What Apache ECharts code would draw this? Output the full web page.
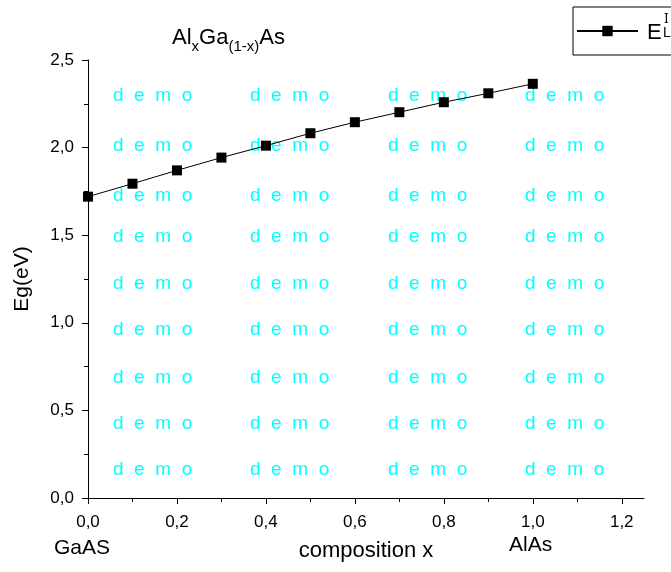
<!DOCTYPE html>
<html><head><meta charset="utf-8">
<script src="https://cdn.jsdelivr.net/npm/echarts@6/dist/echarts.min.js"></script>
<style>html,body{margin:0;padding:0;background:#fff}#c{width:671px;height:572px}</style>
</head><body><div id="c"></div>
<script>
const compositionX = [0.0, 0.1, 0.2, 0.3, 0.4, 0.5, 0.6, 0.7, 0.8, 0.9, 1.0];
const bandGap = [1.72, 1.794, 1.87, 1.943, 2.011, 2.082, 2.145, 2.202, 2.259, 2.31, 2.364];
const xTicks = [0, 0.2, 0.4, 0.6, 0.8, 1.0, 1.2];
const yTicks = [0, 0.5, 1.0, 1.5, 2.0, 2.5];
const watermark = 'd  e  m  o';

const font = 'Liberation Sans, Arial, sans-serif';
const fmt = v => Number(v).toFixed(1).replace('.', ',');

const wmCols = [113, 250, 388, 525];
const wmRows = [96, 146, 196, 237, 284, 330, 378, 424, 470];
const graphics = [];
wmRows.forEach(r => wmCols.forEach(c => graphics.push({
  type: 'text', left: c, top: r - 10, z: 1,
  style: { text: watermark, fill: '#00ffff', font: '19px ' + font }
})));
graphics.push({ type: 'text', left: 54, top: 538, style: { text: 'GaAS', fill: '#000', font: '21px ' + font } });
graphics.push({ type: 'text', left: 509, top: 535, style: { text: 'AlAs', fill: '#000', font: '21px ' + font } });
graphics.push({ type: 'text', left: 664, top: 14, z: 10, style: { text: 'I', fill: '#000', font: '12px DejaVu Serif, serif' } });
graphics.push({ type: 'text', left: 663, top: 26, z: 10, style: { text: 'L', fill: '#000', font: '14px ' + font } });

const chart = echarts.init(document.getElementById('c'), null, { renderer: 'canvas' });
chart.setOption({
  animation: false,
  backgroundColor: '#fff',
  title: {
    text: '{n|Al}{s|x}{n|Ga}{s|(1-x)}{n|As}',
    left: 167, top: 18,
    textStyle: {
      fontWeight: 'normal',
      rich: {
        n: { fontSize: 22, fontWeight: 'normal', fontFamily: font, color: '#000', lineHeight: 26, verticalAlign: 'bottom' },
        s: { fontSize: 15, fontWeight: 'normal', fontFamily: font, color: '#000', lineHeight: 26, verticalAlign: 'bottom', padding: [0, 0, -5, 0] }
      }
    }
  },
  legend: {
    left: 573, top: 7,
    itemWidth: 61, itemHeight: 13, itemGap: 0,
    padding: [11, 60, 11, 3],
    borderColor: '#000', borderWidth: 1,
    formatter: () => '{e|E}',
    textStyle: {
      rich: { e: { fontSize: 22, fontFamily: font, color: '#000', lineHeight: 22, padding: [4, 0, 0, 4] } }
    },
    data: [{ name: 'Eg' }]
  },
  grid: { left: 88, top: 60, right: 27, bottom: 74, containLabel: false },
  xAxis: {
    type: 'value', min: 0, max: 1.25, interval: 0.2,
    name: 'composition x', nameLocation: 'middle', nameGap: 42,
    nameTextStyle: { fontSize: 22, fontFamily: font, color: '#000' },
    axisLine: { lineStyle: { color: '#000', width: 1 } },
    axisTick: { inside: false, length: 6, customValues: xTicks, lineStyle: { color: '#000' } },
    minorTick: { show: true, splitNumber: 2, length: 4, lineStyle: { color: '#000' } },
    axisLabel: { customValues: xTicks, formatter: fmt, fontSize: 17, fontFamily: font, color: '#000', margin: 16 },
    splitLine: { show: false }
  },
  yAxis: {
    type: 'value', min: 0, max: 2.5, interval: 0.5,
    name: 'Eg(eV)', nameLocation: 'middle', nameGap: 55,
    nameTextStyle: { fontSize: 21, fontFamily: font, color: '#000' },
    axisLine: { show: true, lineStyle: { color: '#000', width: 1 } },
    axisTick: { show: true, inside: false, length: 6, lineStyle: { color: '#000' } },
    minorTick: { show: true, splitNumber: 2, length: 4, lineStyle: { color: '#000' } },
    axisLabel: { formatter: fmt, fontSize: 17, fontFamily: font, color: '#000', margin: 14 },
    splitLine: { show: false }
  },
  graphic: graphics,
  series: [{
    name: 'Eg', type: 'line',
    data: compositionX.map((x, i) => [x, bandGap[i]]),
    symbol: 'rect', symbolSize: 10, showSymbol: true,
    lineStyle: { color: '#000', width: 1 },
    itemStyle: { color: '#000' },
    z: 5
  }]
});
</script></body></html>
